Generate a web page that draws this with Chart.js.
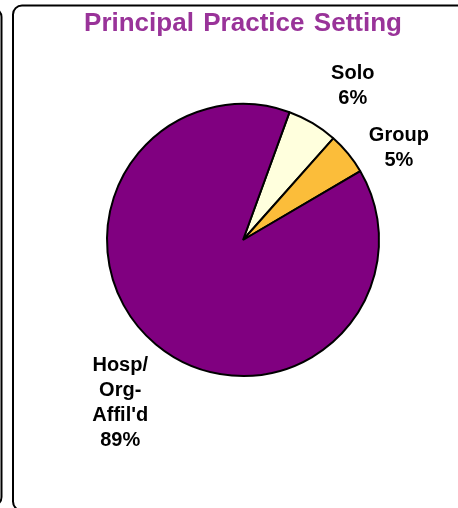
<!DOCTYPE html>
<html>
<head>
<meta charset="utf-8">
<script src="https://cdn.jsdelivr.net/npm/chart.js@4.4.1/dist/chart.umd.min.js"></script>
<style>
  html, body { margin: 0; padding: 0; background: #ffffff; }
  #wrap { position: relative; width: 458px; height: 508px; }
</style>
</head>
<body>
<div id="wrap"><canvas id="c" width="458" height="508"></canvas></div>
<script>
// ---- data ----
const categories = ["Solo", "Group", "Hosp/ Org- Affil'd"];
const labelLines = [["Solo"], ["Group"], ["Hosp/", "Org-", "Affil'd"]];
const values = [6, 5, 89];
const percentLabels = ["6%", "5%", "89%"];
const titleText = "Principal \u200APractice \u200ASetting";

// ---- style ----
const sliceColors = ["#FFFFDD", "#FBBD3A", "#800080"];
const labelDist = [1.39, 1.33, 1.50];      // in units of radius
const labelAngleShift = [4.7, 8.9, -2.8];  // degrees
const labelFont = 'bold 20px "Liberation Sans", Arial, sans-serif';
const labelLineHeight = 25;

const framePlugin = {
  id: 'frame',
  beforeDraw(chart) {
    const ctx = chart.ctx;
    ctx.save();
    ctx.fillStyle = '#ffffff';
    ctx.fillRect(0, 0, chart.width, chart.height);
    ctx.strokeStyle = '#000000';
    ctx.lineWidth = 2;
    // main frame (extends past right and bottom edges)
    ctx.beginPath();
    ctx.roundRect(13, 5.5, 458, 505, 9);
    ctx.stroke();
    // neighbouring panel edge at far left
    ctx.beginPath();
    ctx.roundRect(-60, 8, 61.5, 498, 9);
    ctx.stroke();
    ctx.restore();
  }
};

const labelPlugin = {
  id: 'sliceLabels',
  afterDatasetsDraw(chart) {
    const ctx = chart.ctx;
    const meta = chart.getDatasetMeta(0);
    ctx.save();
    ctx.font = labelFont;
    ctx.fillStyle = '#000000';
    ctx.textAlign = 'center';
    ctx.textBaseline = 'middle';
    meta.data.forEach((arc, i) => {
      const p = arc.getProps(['x', 'y', 'startAngle', 'endAngle', 'outerRadius'], true);
      const mid = (p.startAngle + p.endAngle) / 2 + labelAngleShift[i] * Math.PI / 180;
      const d = p.outerRadius * labelDist[i];
      const cx = p.x + Math.cos(mid) * d;
      const cy = p.y + Math.sin(mid) * d;
      const lines = labelLines[i].concat([percentLabels[i]]);
      const y0 = cy - (lines.length - 1) * labelLineHeight / 2;
      lines.forEach((t, k) => ctx.fillText(t, cx, y0 + k * labelLineHeight));
    });
    ctx.restore();
  }
};

new Chart(document.getElementById('c'), {
  type: 'pie',
  data: {
    labels: categories,
    datasets: [{
      data: values,
      backgroundColor: sliceColors,
      borderColor: '#000000',
      borderWidth: 2,
      hoverOffset: 0,
      radius: 136
    }]
  },
  options: {
    responsive: false,
    animation: false,
    rotation: 20,
    layout: { padding: { left: 60, right: 32, top: 0, bottom: 88 } },
    plugins: {
      legend: { display: false },
      tooltip: { enabled: false },
      title: {
        display: true,
        text: titleText,
        color: '#993399',
        font: { family: '"Liberation Sans", Arial, sans-serif', size: 26, weight: 'bold', lineHeight: 1.2 },
        padding: { top: 8, bottom: 20.8 }
      }
    }
  },
  plugins: [framePlugin, labelPlugin]
});
</script>
</body>
</html>
